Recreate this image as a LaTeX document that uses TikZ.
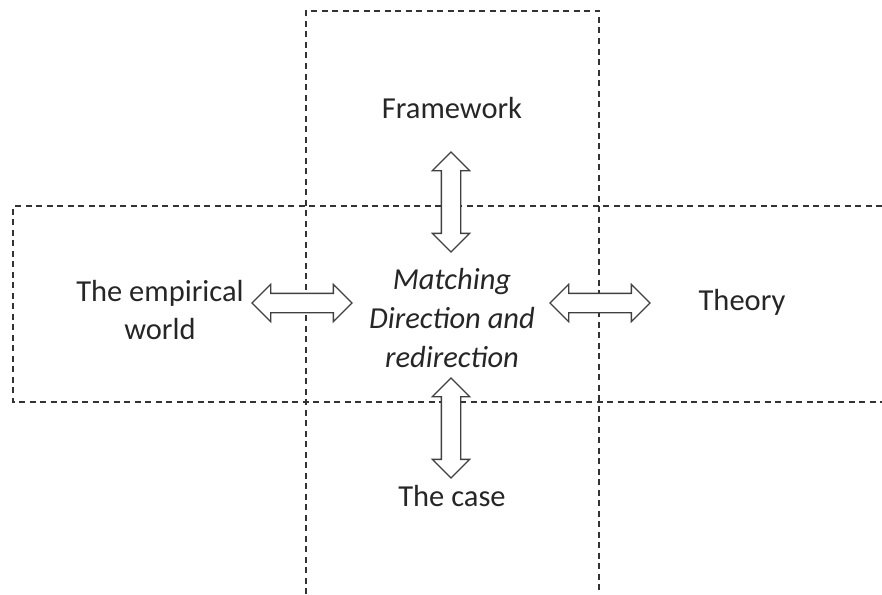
\documentclass[tikz,border=0pt]{standalone}
\usepackage{fontspec}
\setmainfont{Carlito}
\usetikzlibrary{shapes.arrows}

\tikzset{
    frame/.style={dashed, dash pattern=on 6pt off 4.5pt, line width=1.2pt, black!80},
    label/.style={text=black!85, font=\fontsize{30.5}{38}\selectfont, align=center, inner sep=0pt},
    dblarrow/.style={double arrow, draw=black!75, line width=1.3pt, fill=white,
        inner xsep=0pt, inner ysep=9pt, double arrow head extend=9pt,
        minimum height=100pt},
}

\begin{document}
\begin{tikzpicture}[x=1pt, y=-1pt]
    \useasboundingbox (0,0) rectangle (882,594);

    % the two dashed frames
    \draw[frame] (306,594) -- (306,11) -- (599,11) -- (599,594);
    \draw[frame] (882,206) -- (13,206) -- (13,402) -- (882,402);

    \node[label, anchor=base] (framework) at (452,118) {Framework};
    \node[label, anchor=base] (theory) at (742,310) {Theory};
    \node[label, anchor=base] (case) at (452,506) {The case};
    \node[label] (world) at (160,310) {The empirical\\world};
    \node[label, font=\fontsize{30.5}{39}\selectfont\itshape] (matching) at (452,318)
        {Matching\\Direction and\\redirection};

    \node[dblarrow] (upper) at (451,202) [rotate=90] {};
    \node[dblarrow] (lower) at (451,428) [rotate=90] {};
    \node[dblarrow] (left) at (302,303) {};
    \node[dblarrow] (right) at (600,303) {};
\end{tikzpicture}
\end{document}
